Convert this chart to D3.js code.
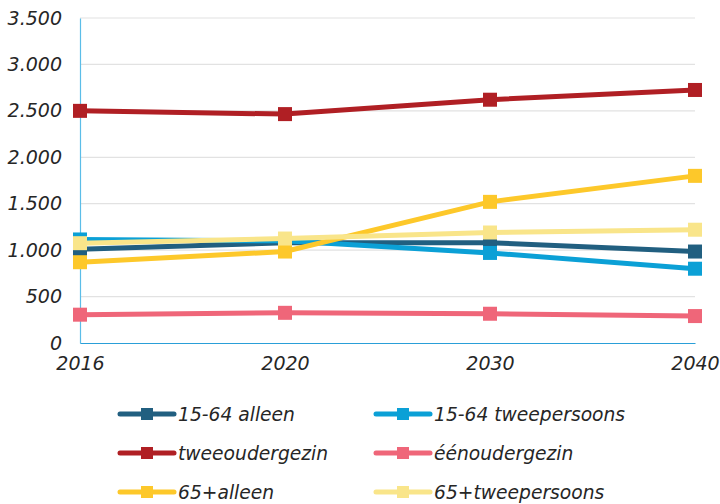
<!DOCTYPE html>
<html>
<head>
<meta charset="utf-8">
<script src="https://cdnjs.cloudflare.com/ajax/libs/d3/7.8.5/d3.min.js"></script>
<style>
  body { margin: 0; background: #fff; }
  text { font-family: "DejaVu Sans", Verdana, sans-serif; font-style: italic; fill: #262626; }
</style>
</head>
<body>
<svg id="chart" width="720" height="504"></svg>
<script>
// jaren (x-as)
var years = ["2016", "2020", "2030", "2040"];
var yTicks = [0, 500, 1000, 1500, 2000, 2500, 3000, 3500];

// huishoudtypes
var names = ["15-64 alleen", "15-64 tweepersoons", "tweeoudergezin", "éénoudergezin", "65+alleen", "65+tweepersoons"];
var colors = ["#215f80", "#0ba0d6", "#b01f24", "#ef6679", "#fdc82a", "#f9e58a"];

var alleen1564 = [1010, 1080, 1080, 985];
var twee1564 = [1115, 1100, 970, 800];
var tweeouder = [2500, 2465, 2620, 2725];
var eenouder = [305, 325, 315, 290];
var alleen65 = [870, 985, 1520, 1800];
var twee65 = [1075, 1125, 1190, 1220];

var values = [alleen1564, twee1564, tweeouder, eenouder, alleen65, twee65];

var svg = d3.select("#chart");

var x = d3.scalePoint().domain(years).range([80, 695]);
var y = d3.scaleLinear().domain([0, 3500]).range([343, 18]);

var nl = d3.formatLocale({decimal: ",", thousands: ".", grouping: [3], currency: ["€", ""]});
var fmt = nl.format(",");

// gridlijnen
svg.append("g").selectAll("line")
  .data(yTicks.filter(d => d > 0))
  .enter().append("line")
  .attr("x1", 80).attr("x2", 695)
  .attr("y1", d => y(d)).attr("y2", d => y(d))
  .attr("stroke", "#e2e2e2").attr("stroke-width", 1.2);

// y-as
var yAxis = svg.append("g").attr("transform", "translate(80,0)")
  .call(d3.axisLeft(y).tickValues(yTicks).tickFormat(fmt).tickSize(0).tickPadding(18));
yAxis.select(".domain").attr("stroke", "#5bbde8").attr("stroke-width", 1.2);
yAxis.selectAll("text").style("font-size", "19px").attr("fill", "#262626");

// x-as
var xAxis = svg.append("g").attr("transform", "translate(0,343)")
  .call(d3.axisBottom(x).tickSize(0).tickPadding(14));
xAxis.select(".domain").attr("stroke", "#2a9fd8").attr("stroke-width", 1.2);
xAxis.selectAll("text").style("font-size", "19px").attr("fill", "#262626");

var line = d3.line().x((d, i) => x(years[i])).y(d => y(d));

var series = svg.append("g").selectAll("g")
  .data(values)
  .enter().append("g");

series.append("path")
  .attr("d", d => line(d))
  .attr("fill", "none")
  .attr("stroke", (d, i) => colors[i])
  .attr("stroke-width", 5);

series.each(function(d, i) {
  d3.select(this).selectAll("rect")
    .data(d).enter().append("rect")
    .attr("x", (v, j) => x(years[j]) - 7)
    .attr("y", v => y(v) - 7)
    .attr("width", 14).attr("height", 14)
    .attr("fill", colors[i]);
});

// legenda
var legend = svg.append("g").selectAll("g")
  .data(names)
  .enter().append("g")
  .attr("transform", (d, i) => "translate(" + (i % 2 == 0 ? 120 : 376) + "," + (414 + Math.floor(i / 2) * 39) + ")");

legend.append("line")
  .attr("x1", 0).attr("x2", 54)
  .attr("stroke", (d, i) => colors[i])
  .attr("stroke-width", 5)
  .attr("stroke-linecap", "round");
legend.append("rect")
  .attr("x", 21).attr("y", -6).attr("width", 12).attr("height", 12)
  .attr("fill", (d, i) => colors[i]);
legend.append("text")
  .attr("x", 58).attr("y", 6.5)
  .style("font-size", "18.7px")
  .text(d => d);
</script>
</body>
</html>
